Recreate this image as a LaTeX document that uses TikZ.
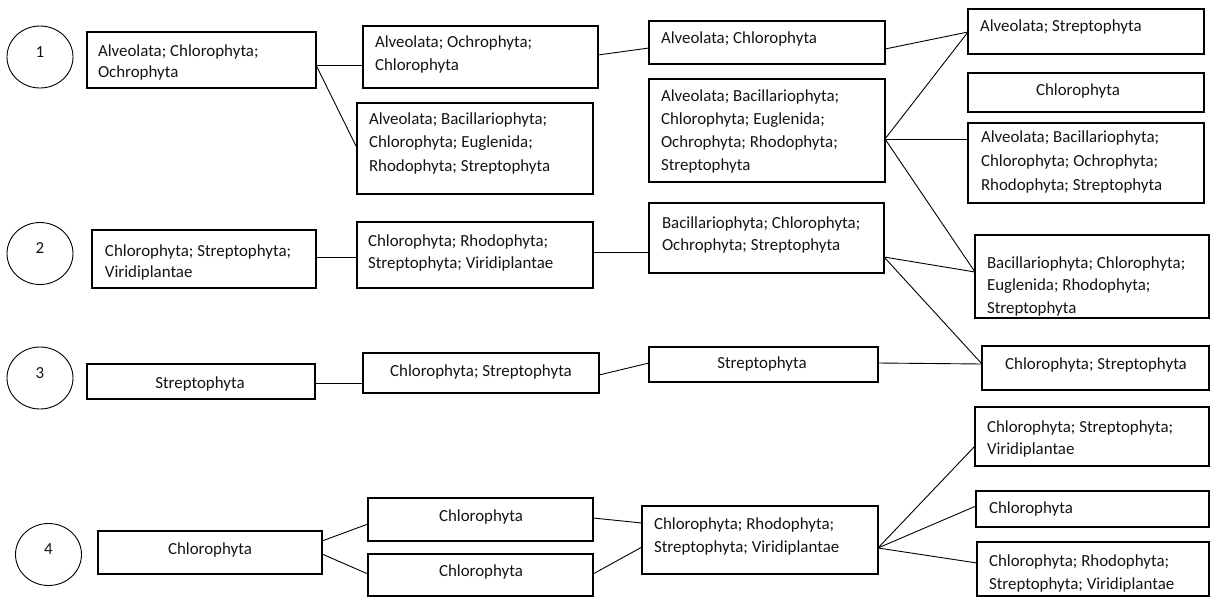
\documentclass[tikz,border=0pt]{standalone}
\usepackage{fontspec}
\setmainfont{Carlito}
\usetikzlibrary{shapes.geometric}

\tikzset{
  taxbox/.style={draw=black, line width=1.2pt, inner sep=0pt, outer sep=0pt,
    anchor=north west, text=black!92},
  numcirc/.style={ellipse, draw=black, line width=0.9pt, minimum width=66pt,
    minimum height=62pt, inner sep=0pt, outer sep=0pt,
    font=\fontsize{16.9}{22}\selectfont, text=black!92},
  link/.style={draw=black, line width=0.9pt}
}

% box with left-aligned text:
% [line spacing] name, x1, y1, x2, y2, text left x, first line centre y, text
\newcommand\leftbox[9][22.5]{%
  \pgfmathsetmacro\tbW{#5-#3}%
  \pgfmathsetmacro\tbH{#6-#4}%
  \pgfmathsetmacro\tbL{#7-#3}%
  \pgfmathsetmacro\tbT{#8+5-#4-0.7*#1}%
  \node[taxbox, minimum width=\tbW pt, minimum height=\tbH pt] (#2) at (#3,#4)
    {\parbox[t][\tbH pt][t]{\tbW pt}{\fontsize{16.9}{#1}\selectfont
      \raggedright\leftskip=\tbL pt\relax
      \vspace*{\tbT pt}\strut #9}};%
}
% box with one centred line: name, x1, y1, x2, y2, text centre x, text centre y, text
\newcommand\midbox[8]{%
  \pgfmathsetmacro\tbW{#4-#2}%
  \pgfmathsetmacro\tbH{#5-#3}%
  \pgfmathsetmacro\tbL{#6-#2}%
  \pgfmathsetmacro\tbT{#7+5-#3-15.4}%
  \node[taxbox, minimum width=\tbW pt, minimum height=\tbH pt] (#1) at (#2,#3)
    {\parbox[t][\tbH pt][t]{\tbW pt}{\fontsize{16.9}{22}\selectfont
      \vspace*{\tbT pt}\noindent
      \hspace*{\tbL pt}\makebox[0pt]{\strut #8}}};%
}

\begin{document}
\begin{tikzpicture}[x=1pt, y=-1pt]
  \fill[white] (0,0) rectangle (1211,597);
  \useasboundingbox (0,0) rectangle (1211,597);

  % group numbers
  \node[numcirc] (n1) at (40,57) {\smash{1}};
  \node[numcirc] (n2) at (40,253.5) {\smash{2}};
  \node[numcirc] (n3) at (40,378) {\smash{3}};
  \node[numcirc] (n4) at (48.5,554.5) {\smash{4}};

  % group 1
  \leftbox[21.5]{a1}{87}{32}{316}{88}{98}{51}{Alveolata; Chlorophyta;\\Ochrophyta}
  \leftbox[23]{b1}{363}{26}{598}{88}{375}{42}{Alveolata; Ochrophyta;\\Chlorophyta}
  \leftbox[23.5]{b1b}{357}{103}{593}{194}{369}{119}{Alveolata; Bacillariophyta;\\Chlorophyta; Euglenida;\\Rhodophyta; Streptophyta}
  \leftbox{c1}{649}{21}{885}{64}{661}{38}{Alveolata; Chlorophyta}
  \leftbox[23.3]{c1b}{649}{79}{885}{182}{661}{96}{Alveolata; Bacillariophyta;\\Chlorophyta; Euglenida;\\Ochrophyta; Rhodophyta;\\Streptophyta}
  \leftbox{r1}{968}{9}{1204}{54}{980}{27}{Alveolata; Streptophyta}
  \midbox{r2}{968}{73}{1204}{112}{1078}{90}{Chlorophyta}
  \leftbox[24]{r3}{968}{123}{1204}{203}{981}{137}{Alveolata; Bacillariophyta;\\Chlorophyta; Ochrophyta;\\Rhodophyta; Streptophyta}

  % group 2
  \leftbox[21.5]{a2}{92}{230}{316}{288}{105}{251}{Chlorophyta; Streptophyta;\\Viridiplantae}
  \leftbox[22]{b2}{357}{222}{593}{288}{368}{241}{Chlorophyta; Rhodophyta;\\Streptophyta; Viridiplantae}
  \leftbox[22]{c2}{649}{203}{884}{273}{662}{223}{Bacillariophyta; Chlorophyta;\\Ochrophyta; Streptophyta}
  \leftbox[22.5]{r4}{975}{235}{1209}{318}{987}{263}{Bacillariophyta; Chlorophyta;\\Euglenida; Rhodophyta;\\Streptophyta}

  % group 3
  \midbox{a3}{87}{364}{315}{399}{200}{383}{Streptophyta}
  \midbox{b3}{363}{353}{599}{393}{481}{371}{Chlorophyta; Streptophyta}
  \midbox{c3}{649}{347}{878}{382}{762}{363}{Streptophyta}
  \midbox{r5}{982}{346}{1209}{390}{1096}{364}{Chlorophyta; Streptophyta}

  % group 4
  \midbox{a4}{98}{531}{322}{574}{210}{549}{Chlorophyta}
  \midbox{b4a}{368}{498}{593}{541}{481}{516}{Chlorophyta}
  \midbox{b4b}{368}{554}{593}{596}{481}{571}{Chlorophyta}
  \leftbox[23]{m4}{642}{506}{878}{574}{654}{524}{Chlorophyta; Rhodophyta;\\Streptophyta; Viridiplantae}
  \leftbox[22.5]{r6}{975}{407}{1209}{466}{987}{427}{Chlorophyta; Streptophyta;\\Viridiplantae}
  \leftbox{r7}{976}{491}{1209}{527}{989}{508}{Chlorophyta}
  \leftbox[23]{r8}{977}{542}{1209}{596}{989}{561}{Chlorophyta; Rhodophyta;\\Streptophyta; Viridiplantae}

  % connectors, group 1
  \draw[link] (a1.east |- 0,65) -- (b1.west |- 0,65);
  \draw[link] (a1.east |- 0,65) -- (b1b.west |- 0,148);
  \draw[link] (b1.east |- 0,55) -- (c1.west |- 0,48);
  \draw[link] (c1.east |- 0,49) -- (r1.west |- 0,32);
  \draw[link] (c1b.east |- 0,139) -- (r1.west |- 0,32);
  \draw[link] (c1b.east |- 0,139) -- (r3.west |- 0,139);
  \draw[link] (c1b.east |- 0,139) -- (r4.west |- 0,272);

  % connectors, group 2
  \draw[link] (a2.east |- 0,257) -- (b2.west |- 0,257);
  \draw[link] (b2.east |- 0,252) -- (c2.west |- 0,252);
  \draw[link] (c2.east |- 0,257) -- (r4.west |- 0,272);
  \draw[link] (c2.east |- 0,257) -- (r5.west |- 0,364);

  % connectors, group 3
  \draw[link] (a3.east |- 0,383) -- (b3.west |- 0,383);
  \draw[link] (b3.east |- 0,375) -- (c3.west |- 0,363);
  \draw[link] (c3.east |- 0,363) -- (r5.west |- 0,364);

  % connectors, group 4
  \draw[link] (a4.east |- 0,541) -- (b4a.west |- 0,524);
  \draw[link] (a4.east |- 0,554) -- (b4b.west |- 0,574);
  \draw[link] (b4a.east |- 0,518) -- (m4.west |- 0,523);
  \draw[link] (b4b.east |- 0,574) -- (m4.west |- 0,547);
  \draw[link] (m4.east |- 0,548) -- (r6.west |- 0,446);
  \draw[link] (m4.east |- 0,548) -- (r7.west |- 0,506);
  \draw[link] (m4.east |- 0,548) -- (r8.west |- 0,563);
\end{tikzpicture}
\end{document}
